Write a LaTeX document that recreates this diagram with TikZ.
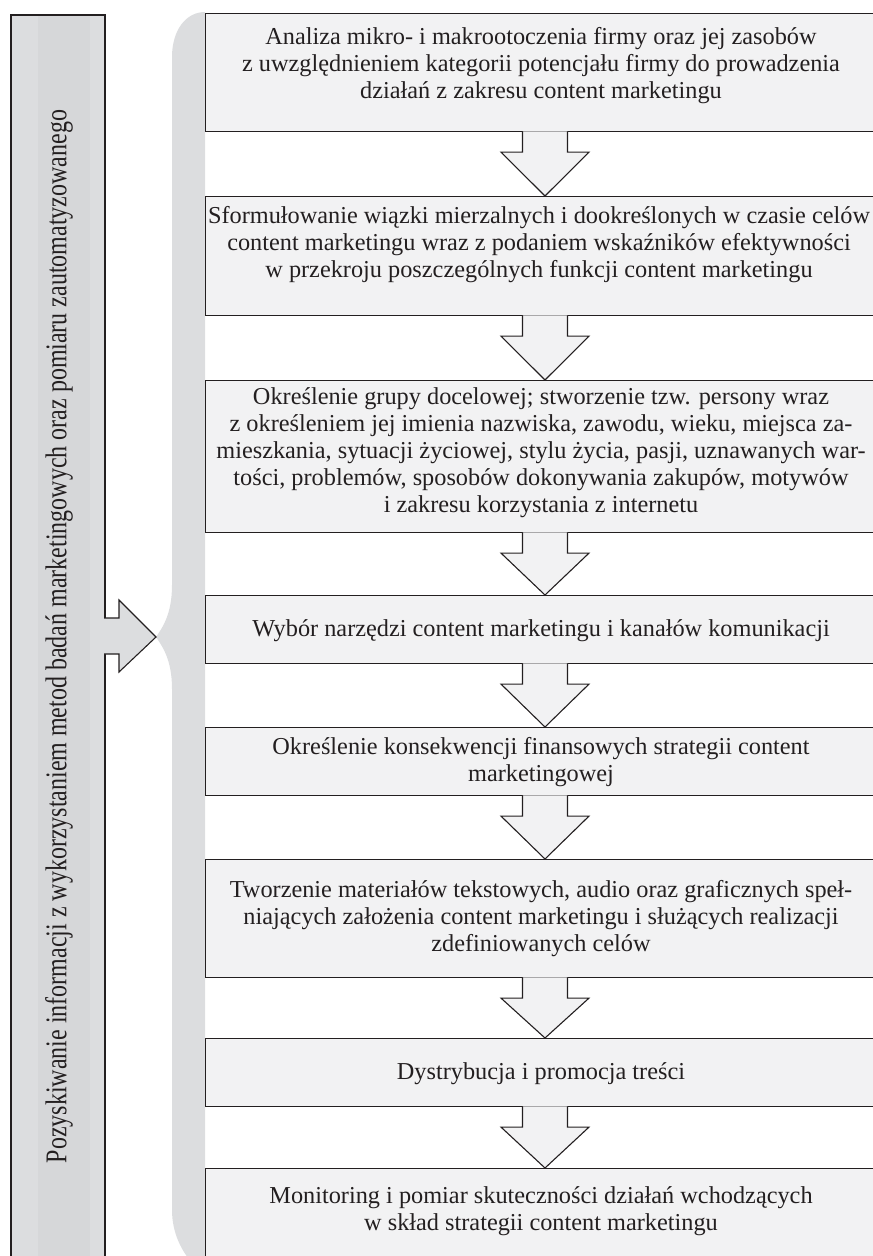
\documentclass[tikz,border=0pt]{standalone}
\usepackage{fontspec}
\setmainfont{Liberation Serif}
\usetikzlibrary{calc}
\definecolor{boxfill}{HTML}{F2F2F3}
\definecolor{bracefill}{HTML}{DCDDDF}
\definecolor{leftfill}{HTML}{DCDDDF}
\definecolor{leftstrip}{HTML}{D6D7D9}
\definecolor{inkc}{HTML}{231F20}
\tikzset{
  stepbox/.style={draw=inkc, line width=1.1pt, fill=boxfill, rectangle, anchor=north west, minimum width=690pt, inner sep=0pt},
  steptext/.style={inner sep=0pt, align=center, font=\fontsize{24.3}{27}\selectfont, text=inkc},
  arrowshape/.style={draw=inkc, line width=1.1pt, fill=boxfill, line join=miter},
  sidebox/.style={draw=inkc, line width=1.1pt, fill=leftfill, rectangle, anchor=north west, minimum width=94pt, minimum height=1300pt, inner sep=0pt},
  sidetext/.style={inner sep=0pt, rotate=90, anchor=base, font=\fontsize{30}{33}\selectfont, text=inkc}
}
\newcommand\flowarrow[2]{%
  \filldraw[arrowshape] let \p1=(#1.south), \p2=(#2.north) in
    (522.5pt,\y1+0.8pt) -- (522.5pt,\y1-20pt) -- (501pt,\y1-20pt) -- (545pt,\y2)
    -- (589pt,\y1-20pt) -- (567.5pt,\y1-20pt) -- (567.5pt,\y1+0.8pt);
}
\begin{document}
\begin{tikzpicture}[x=1pt,y=-1pt]
\useasboundingbox (0,0) rectangle (873,1256);
\clip (0,0) rectangle (873,1256);
% brace band
\fill[bracefill] (205,1300) -- (205,12) .. controls (186,12) and (172,30) .. (172,57)
  -- (172,585) .. controls (172,615) and (162,628) .. (156,637)
  .. controls (162,646) and (172,659) .. (172,689)
  -- (172,1210) .. controls (172,1254) and (208,1290) .. (252,1290) -- (252,1300) -- cycle;
% left box
\node[sidebox] (L) at (11,15) {};
\fill[leftstrip] (38,15.6) rectangle (90,1300);
\draw[inkc, line width=1.1pt] (11,1300) -- (11,15) -- (105,15) -- (105,1300);
\filldraw[draw=inkc, line width=1.1pt, fill=leftfill, line join=miter]
  (104.2,618) -- (119,618) -- (119,600) -- (156,637) -- (119,672) -- (119,654) -- (104.2,654);
\node[sidetext] (Ltext) at (66.5,636.5) {\resizebox{1053pt}{21.2pt}{Pozyskiwanie informacji z wykorzystaniem metod badań marketingowych oraz pomiaru zautomatyzowanego}};
% step boxes
\node[stepbox, minimum height=118pt] (b1) at (205,13) {};
\node[stepbox, minimum height=119pt] (b2) at (205,196) {};
\node[stepbox, minimum height=152pt] (b3) at (205,380) {};
\node[stepbox, minimum height=68pt] (b4) at (205,595) {};
\node[stepbox, minimum height=68pt] (b5) at (205,727) {};
\node[stepbox, minimum height=118pt] (b6) at (205,859) {};
\node[stepbox, minimum height=68pt] (b7) at (205,1038) {};
\node[stepbox, minimum height=130pt] (b8) at (205,1168) {};
% arrows
\flowarrow{b1}{b2}
\flowarrow{b2}{b3}
\flowarrow{b3}{b4}
\flowarrow{b4}{b5}
\flowarrow{b5}{b6}
\flowarrow{b6}{b7}
\flowarrow{b7}{b8}
% texts
\node[steptext] (t1) at (541,65.5) {Analiza mikro- i makrootoczenia firmy oraz jej zasobów\\z uwzględnieniem kategorii potencjału firmy do prowadzenia\\działań z zakresu content marketingu};
\node[steptext] (t2) at (539,245) {Sformułowanie wiązki mierzalnych i dookreślonych w czasie celów\\content marketingu wraz z podaniem wskaźników efektywności\\w przekroju poszczególnych funkcji content marketingu};
\node[steptext] (t3) at (541,452.5) {Określenie grupy docelowej; stworzenie tzw. persony wraz\\z określeniem jej imienia nazwiska, zawodu, wieku, miejsca za-\\mieszkania, sytuacji życiowej, stylu życia, pasji, uznawanych war-\\tości, problemów, sposobów dokonywania zakupów, motywów\\i zakresu korzystania z internetu};
\node[steptext] (t4) at (541,631) {Wybór narzędzi content marketingu i kanałów komunikacji};
\node[steptext] (t5) at (541,762.5) {Określenie konsekwencji finansowych strategii content\\marketingowej};
\node[steptext] (t6) at (541,918.5) {Tworzenie materiałów tekstowych, audio oraz graficznych speł-\\niających założenia content marketingu i służących realizacji\\zdefiniowanych celów};
\node[steptext] (t7) at (541,1074) {Dystrybucja i promocja treści};
\node[steptext] (t8) at (541,1211) {Monitoring i pomiar skuteczności działań wchodzących\\w skład strategii content marketingu};
\end{tikzpicture}
\end{document}
